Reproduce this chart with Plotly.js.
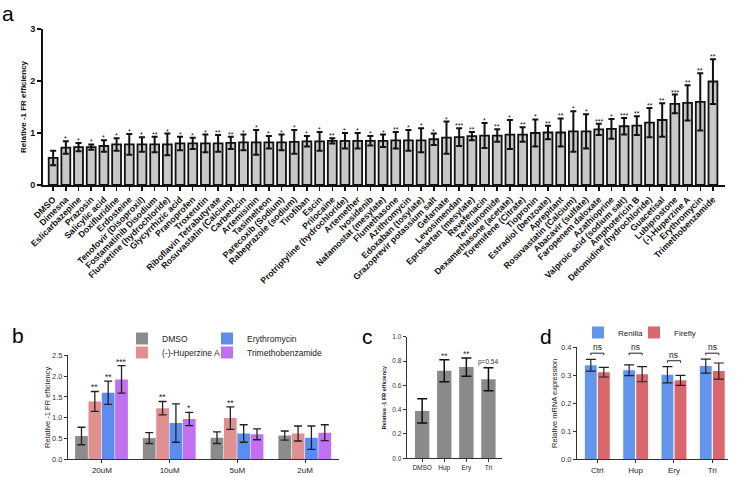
<!DOCTYPE html>
<html>
<head>
<meta charset="utf-8">
<script src="https://cdn.plot.ly/plotly-3.0.1.min.js"></script>
<style>html,body{margin:0;padding:0;background:#fff}#fig{width:738px;height:477px}</style>
</head>
<body>
<div id="fig"></div>
<script>
var W = 738, H = 477;
function px(x){ return x / W; }
function py(y){ return 1 - y / H; }
var FONT = 'Liberation Sans, Arial, sans-serif';

// panel a: drug screen
var drugs = ['DMSO','Dimesna','Eslicarbazepine','Prazosin','Salicylic acid','Doxifluridine','Erdosteine',
  'Tenofovir (Disoproxil)','Fostamatinib Disodium','Fluoxetine (hydrochloride)','Glycyrrhizic acid','Pranoprofen',
  'Troxerutin','Riboflavin Tetrabutyrate','Rosuvastatin (Calcium)','Carbetocin','Artemisinin','Tasimelteon',
  'Parecoxib (Sodium)','Rabeprazole (sodium)','Tirofiban','Escin','Prilocaine','Protriptyline (hydrochloride)',
  'Artemether','Ivosidenib','Nafamostat (mesylate)','Flumethasone','Azithromycin','Edoxaban (tosylate)',
  'Grazoprevir potassium salt','Gefarnate','Levosimendan','Eprosartan (mesylate)','Revefenacin','Teriflunomide',
  'Dexamethasone (acetate)','Toremifene (Citrate)','Tiopronin','Estradiol (benzoate)','Aprepitant',
  'Rosuvastatin (Calcium)','Abacavir (sulfate)','Faropenem daloxate','Azathioprine','Valproic acid (sodium salt)',
  'Amphotericin B','Detomidine (hydrochloride)','Guacetisal','Lubiprostone','(-)-Huperzine A','Erythromycin',
  'Trimethobenzamide'];
var drugMean = [0.52,0.72,0.73,0.73,0.75,0.78,0.78,0.78,0.78,0.78,0.80,0.80,0.80,0.80,0.81,0.82,0.82,0.82,
  0.82,0.83,0.84,0.84,0.85,0.85,0.85,0.85,0.85,0.86,0.86,0.86,0.88,0.91,0.92,0.94,0.95,0.95,0.97,0.97,1.00,
  1.01,1.01,1.03,1.03,1.07,1.08,1.13,1.14,1.20,1.25,1.56,1.58,1.60,1.99];
var drugErr = [0.14,0.12,0.08,0.05,0.11,0.12,0.20,0.14,0.15,0.21,0.13,0.11,0.17,0.16,0.12,0.15,0.24,0.12,
  0.15,0.23,0.10,0.18,0.05,0.15,0.15,0.09,0.12,0.16,0.20,0.23,0.11,0.31,0.17,0.08,0.24,0.12,0.28,0.14,0.26,
  0.13,0.27,0.39,0.33,0.11,0.19,0.16,0.18,0.28,0.32,0.18,0.34,0.55,0.43];
var drugSig = ['','*','*','*','*','*','*','*','**','*','*','*','*','**','**','*','*','*','*','*','*','*',
  '**','*','*','*','*','**','*','*','*','*','***','**','*','**','*','**','*','**','**','*','*','***','*',
  '***','**','**','**','***','**','**','**'];

// panel b: dose response
var doses = ['20uM','10uM','5uM','2uM'];
var bNames = ['DMSO','(-)-Huperzine A','Erythromycin','Trimethobenzamide'];
var bMean = [[0.56,0.51,0.52,0.57],[1.39,1.23,0.99,0.62],[1.60,0.87,0.62,0.52],[1.92,0.97,0.60,0.64]];
var bErr = [[0.21,0.13,0.14,0.11],[0.24,0.16,0.27,0.18],[0.28,0.46,0.21,0.28],[0.33,0.16,0.13,0.19]];
var bSig = [['','','',''],['**','**','**',''],['**','','',''],['***','*','','']];
var bColors = ['#8c8c8c','#e09090','#5b8def','#c070f0'];

// panel c
var cGroups = ['DMSO','Hup','Ery','Tri'];
var cMean = [0.39,0.72,0.75,0.65];
var cErr = [0.10,0.09,0.075,0.095];
var cSig = ['','**','**','p=0.54'];

// panel d
var dGroups = ['Ctrl','Hup','Ery','Tri'];
var renilla = [0.336,0.318,0.302,0.333];
var renillaErr = [0.021,0.019,0.029,0.025];
var firefly = [0.311,0.304,0.282,0.315];
var fireflyErr = [0.017,0.027,0.018,0.029];
var nsTop = [0.379,0.379,0.352,0.379];

var idx = drugs.map(function(d, i){ return i; });
var traces = [];
var annotations = [];
var shapes = [];

traces.push({
  type: 'bar', x: idx, y: drugMean, width: 0.7, xaxis: 'x', yaxis: 'y', showlegend: false,
  marker: {color: '#c8c8c8', line: {color: '#111', width: 1.8}},
  error_y: {type: 'data', array: drugErr, color: '#111', thickness: 2, width: 3}
});
drugSig.forEach(function(s, i){
  if (!s) return;
  annotations.push({xref: 'x', yref: 'y', x: i, y: drugMean[i] + drugErr[i], text: s, showarrow: false,
    yanchor: 'bottom', yshift: -3, font: {family: FONT, size: 7, color: '#111'}});
});

// each legend entry gets its own legend box so the 2x2 grid sits where the figure has it
var bLegend = ['legend', 'legend3', 'legend4', 'legend5'];
var bOff = [-0.395, -0.198, -0.001, 0.196], bW = 0.188;
bNames.forEach(function(n, k){
  traces.push({
    type: 'bar', name: n, x: doses, y: bMean[k], width: bW, offset: bOff[k], xaxis: 'x2', yaxis: 'y2',
    legend: bLegend[k],
    marker: {color: bColors[k]},
    error_y: {type: 'data', array: bErr[k], color: '#222', thickness: 1.3, width: 4}
  });
  bSig[k].forEach(function(s, i){
    if (!s) return;
    annotations.push({xref: 'x2', yref: 'y2', x: i + bOff[k] + bW / 2, y: bMean[k][i] + bErr[k][i], text: s,
      showarrow: false, yanchor: 'bottom', yshift: -3, font: {family: FONT, size: 8.5, color: '#222'}});
  });
});

traces.push({
  type: 'bar', x: cGroups, y: cMean, width: 0.65, xaxis: 'x3', yaxis: 'y3', showlegend: false,
  marker: {color: '#8a8a8a'},
  error_y: {type: 'data', array: cErr, color: '#111', thickness: 1.5, width: 5}
});
cSig.forEach(function(s, i){
  if (!s) return;
  var star = s.indexOf('*') === 0;
  annotations.push({xref: 'x3', yref: 'y3', x: i, y: cMean[i] + cErr[i], text: s, showarrow: false,
    yanchor: 'bottom', yshift: star ? -3 : 0, font: {family: FONT, size: star ? 8.5 : 6.5, color: '#333'}});
});

traces.push({
  type: 'bar', name: 'Renilla', x: dGroups, y: renilla, width: 0.31, offset: -0.325, xaxis: 'x4', yaxis: 'y4',
  legend: 'legend2', marker: {color: '#6495ed'},
  error_y: {type: 'data', array: renillaErr, color: '#222', thickness: 1.2, width: 5}
});
traces.push({
  type: 'bar', name: 'Firefly', x: dGroups, y: firefly, width: 0.31, offset: 0.015, xaxis: 'x4', yaxis: 'y4',
  legend: 'legend6', marker: {color: '#d9686e'},
  error_y: {type: 'data', array: fireflyErr, color: '#222', thickness: 1.2, width: 5}
});
nsTop.forEach(function(t, i){
  shapes.push({type: 'path', xref: 'x4', yref: 'y4',
    path: 'M' + (i - 0.17) + ',' + (t - 0.007) + ' L' + (i - 0.17) + ',' + t + ' L' + (i + 0.17) + ',' + t +
          ' L' + (i + 0.17) + ',' + (t - 0.007),
    line: {color: '#222', width: 1}});
  annotations.push({xref: 'x4', yref: 'y4', x: i, y: t, text: 'ns', showarrow: false, yanchor: 'bottom',
    yshift: -1, font: {family: FONT, size: 8.5, color: '#222'}});
});

// panel letters
[['a', 8, 13], ['b', 18, 335], ['c', 367, 336], ['d', 546, 336]].forEach(function(p){
  annotations.push({xref: 'paper', yref: 'paper', x: px(p[1]), y: py(p[2]), text: p[0], showarrow: false,
    xanchor: 'center', yanchor: 'middle', borderpad: 0, font: {family: FONT, size: 21, color: '#000'}});
});

var boldAx = {showgrid: false, zeroline: false, showline: true, linecolor: '#111', linewidth: 2,
  ticks: 'outside', ticklen: 4, tickwidth: 1.5, tickcolor: '#111'};
function thinAx(extra){
  var o = {showgrid: false, zeroline: false, showline: true, linecolor: '#333', linewidth: 1,
    ticks: 'outside', ticklen: 3, tickwidth: 1, tickcolor: '#333'};
  for (var k in extra) o[k] = extra[k];
  return o;
}
function legendAt(x, y, size){
  return {x: px(x), y: py(y), xanchor: 'left', yanchor: 'top', orientation: 'h',
    itemwidth: 30, bgcolor: 'rgba(0,0,0,0)', font: {family: FONT, size: size || 8.5, color: '#222'}};
}

var layout = {
  width: W, height: H, autosize: false, margin: {l: 0, r: 0, t: 0, b: 0},
  paper_bgcolor: '#fff', plot_bgcolor: 'rgba(0,0,0,0)', barmode: 'group',
  font: {family: FONT, color: '#222'},
  xaxis: Object.assign({}, boldAx, {domain: [px(43), px(725)], range: [-0.8, 52.95], tickvals: idx,
    ticktext: drugs, tickangle: -45, anchor: 'y',
    tickfont: {family: FONT, size: 8.8, weight: 'bold', color: '#111'}}),
  yaxis: Object.assign({}, boldAx, {domain: [py(185), py(29)], range: [0, 3], tickvals: [0, 1, 2, 3],
    anchor: 'x', tickfont: {family: FONT, size: 9, weight: 'bold', color: '#111'},
    title: {text: 'Relative -1 FR efficiency', standoff: 2,
      font: {family: FONT, size: 8, weight: 'bold', color: '#111'}}}),
  xaxis2: thinAx({domain: [px(68), px(339)], range: [-0.5, 3.5], anchor: 'y2', type: 'category',
    tickfont: {family: FONT, size: 8, color: '#222'}}),
  yaxis2: thinAx({domain: [py(459.3), py(355.3)], range: [0, 2.5], dtick: 0.5, tickformat: '.1f', anchor: 'x2',
    tickfont: {family: FONT, size: 7.5, color: '#333'},
    title: {text: 'Relative -1 FR efficiency', standoff: 0, font: {family: FONT, size: 7.5, color: '#222'}}}),
  xaxis3: thinAx({domain: [px(406.7), px(501.7)], range: [-0.7, 3.6], anchor: 'y3', type: 'category',
    tickfont: {family: FONT, size: 6.5, color: '#222'}}),
  yaxis3: thinAx({domain: [py(458.3), py(336.7)], range: [0, 1], dtick: 0.2, tickformat: '.1f', anchor: 'x3',
    tickfont: {family: FONT, size: 6.5, color: '#333'},
    title: {text: 'Relative -1 FR efficiency', standoff: 5,
      font: {family: FONT, size: 5.5, weight: 'bold', color: '#222'}}}),
  xaxis4: thinAx({domain: [px(577), px(728)], range: [-0.53, 3.41], anchor: 'y4', type: 'category',
    tickfont: {family: FONT, size: 8, color: '#222'}}),
  yaxis4: thinAx({domain: [py(459.3), py(347.3)], range: [0, 0.4], dtick: 0.1, tickformat: '.1f', anchor: 'x4',
    tickfont: {family: FONT, size: 7.5, color: '#333'},
    title: {text: 'Relative mRNA expression', standoff: 2, font: {family: FONT, size: 7.5, color: '#222'}}}),
  legend: legendAt(122, 324),
  legend3: legendAt(122, 338),
  legend4: legendAt(207, 324),
  legend5: legendAt(207, 338),
  legend2: legendAt(578, 318, 8),
  legend6: legendAt(634, 318, 8),
  annotations: annotations,
  shapes: shapes
};

Plotly.newPlot('fig', traces, layout, {staticPlot: true});
</script>
</body>
</html>
